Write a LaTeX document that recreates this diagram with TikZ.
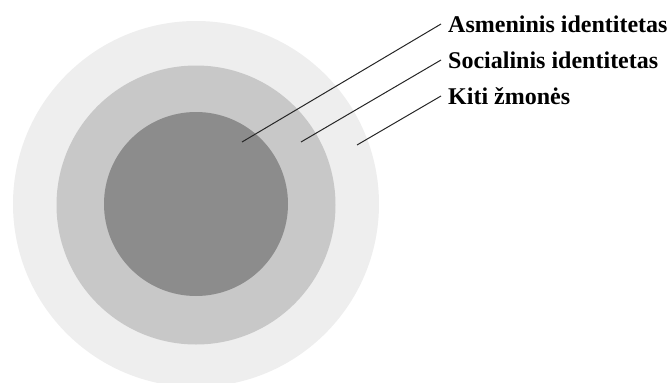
\documentclass[tikz,border=0pt]{standalone}
\usepackage{fontspec}
\setmainfont{Liberation Serif}
\usepackage{xcolor}
\usepackage{tikz}
\definecolor{otherring}{RGB}{238,238,238}
\definecolor{socialring}{RGB}{200,200,200}
\definecolor{selfcore}{RGB}{140,140,140}

\begin{document}
\begin{tikzpicture}[x=1pt, y=-1pt,
	ring/.style={shape=circle, draw=none, inner sep=0pt},
	lbl/.style={anchor=base west, inner xsep=7pt, inner ysep=0pt, text height=16pt, text depth=0pt,
		font=\fontsize{24}{28}\selectfont\bfseries}]
	\useasboundingbox (0,0) rectangle (670,383);

	\node[ring, fill=otherring, minimum size=366pt] (K) at (196,204) {};
	\node[ring, fill=socialring, minimum size=279pt] (S) at (196,205) {};
	\node[ring, fill=selfcore, minimum size=184pt] (A) at (196,204) {};

	\node[lbl] (As) at (441,32) {Asmeninis identitetas};
	\node[lbl] (So) at (441,68) {Socialinis identitetas};
	\node[lbl] (Ki) at (441,104) {Kiti žmonės};

	\coordinate (a) at (242,142);
	\coordinate (s) at (301,142);
	\coordinate (k) at (357,145);

	\path[draw=black!85, line width=1pt] (a) edge (As.west);
	\path[draw=black!85, line width=1pt] (s) edge (So.west);
	\path[draw=black!85, line width=1pt] (k) edge (Ki.west);
\end{tikzpicture}
\end{document}
